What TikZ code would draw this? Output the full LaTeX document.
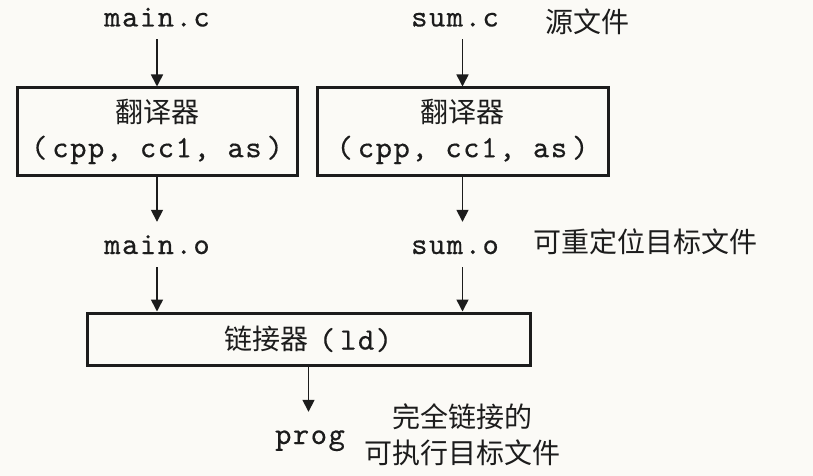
\documentclass[tikz,border=0pt]{standalone}
\usepackage{fontspec}
\newfontfamily\cjk{Noto Sans CJK SC}
\newfontfamily\mymono{lmmono10-regular.otf}[LetterSpace=5, FakeBold=0.4]
\usetikzlibrary{arrows.meta}
\definecolor{bg}{RGB}{251,250,246}
\definecolor{ink}{RGB}{28,28,28}
\begin{document}
\begin{tikzpicture}[x=1pt,y=-1pt,
  every node/.style={text=ink, inner sep=0pt},
  file/.style={font=\fontsize{31}{35}\selectfont\mymono, text height=18pt, text depth=7pt, anchor=base},
  note/.style={font=\fontsize{28}{36}\selectfont\cjk, align=center},
  stage/.style={draw=ink, line width=3pt, align=center, font=\fontsize{28}{35}\selectfont},
  flow/.style={draw=ink, line width=1.6pt, -{Triangle[width=12pt,length=12pt]}},
]
\fill[bg] (0,0) rectangle (813,476);
\useasboundingbox (0,0) rectangle (813,476);

% source files
\node[file] (mainc) at (157,26.5) {main.c};
\node[file] (sumc) at (455,26.5) {sum.c};
\node[note, anchor=west] (srcnote) at (545,22) {源文件};

% translators
\node[stage, minimum width=280pt, minimum height=87pt] (t1) at (157,131.5)
  {{\cjk 翻译器}\\{\fontsize{31}{35}\selectfont\mymono(\hspace{5pt}cpp, cc1, as\hspace{5pt})}};
\node[stage, minimum width=291pt, minimum height=87pt] (t2) at (462.5,131.5)
  {{\cjk 翻译器}\\{\fontsize{31}{35}\selectfont\mymono(\hspace{5pt}cpp, cc1, as\hspace{5pt})}};

% relocatable objects
\node[file] (maino) at (157,254) {main.o};
\node[file] (sumo) at (455,254) {sum.o};
\node[note, anchor=west] (objnote) at (533,242) {可重定位目标文件};

% linker
\node[stage, minimum width=443pt, minimum height=52pt] (ld) at (308.5,339)
  {{\cjk 链接器}\hspace{10pt}{\fontsize{31}{35}\selectfont\mymono(\hspace{5pt}ld)}};

% executable
\node[file] (prog) at (310,444) {prog};
\node[note] (exenote) at (462,435) {完全链接的\\可执行目标文件};

% connectors
\draw[flow, shorten <=5.5pt] (mainc.south) -- (mainc.south |- t1.north);
\draw[flow, shorten <=5.5pt] (t2.north |- sumc.south) -- (t2.north);
\draw[flow, shorten >=14pt] (t1.south) -- (t1.south |- maino.north);
\draw[flow, shorten >=14pt] (t2.south) -- (t2.south |- sumo.north);
\draw[flow, shorten <=6pt] (maino.south) -- (maino.south |- ld.north);
\draw[flow, shorten <=6pt] (t2.south |- sumo.south) -- (t2.south |- ld.north);
\draw[flow, shorten >=14pt] (ld.south) -- (ld.south |- prog.north);
\end{tikzpicture}
\end{document}
